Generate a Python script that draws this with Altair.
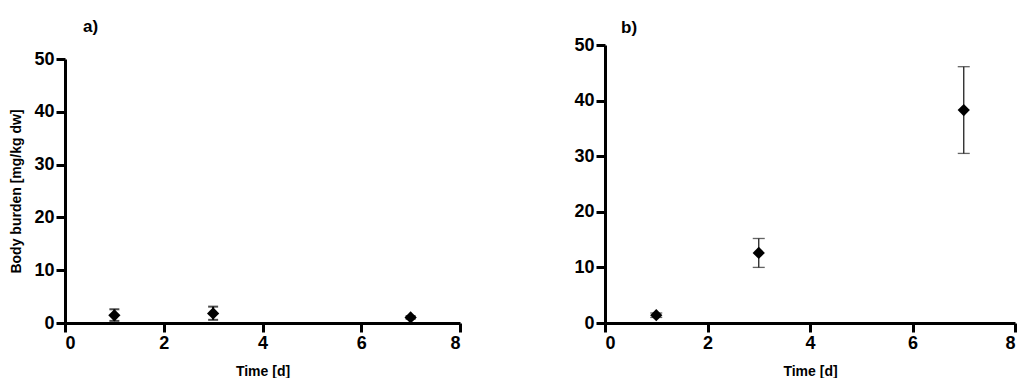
import altair as alt
import pandas as pd

# Panel a) data
a_time = [1, 3, 7]
a_mean = [1.45, 1.8, 1.05]
a_low = [0.4, 0.6, 0.8]
a_high = [2.6, 3.1, 1.3]

# Panel b) data
b_time = [1, 3, 7]
b_mean = [1.4, 12.6, 38.3]
b_low = [1.0, 10.0, 30.5]
b_high = [1.8, 15.2, 46.1]

x_ticks = [0, 2, 4, 6, 8]
y_ticks = [0, 10, 20, 30, 40, 50]

FONT = "Liberation Sans"


def panel(t, m, lo, hi, label, width, height, top_gap, y_title, title_offset, title_dx,
          err_w, err_color, cap_size):
    df = pd.DataFrame({"t": t, "m": m, "lo": lo, "hi": hi})
    xs = alt.Scale(domain=[0, 8], nice=False, zero=False)
    ys = alt.Scale(domain=[0, 50], nice=False, range=[height, top_gap])
    x_axis = alt.Axis(values=x_ticks, title="Time [d]", grid=False, format="d",
                      titlePadding=12)
    if y_title:
        y_axis = alt.Axis(values=y_ticks, grid=False, format="d", title=y_title, titlePadding=10)
    else:
        y_axis = alt.Axis(values=y_ticks, grid=False, format="d", title=None)
    base = alt.Chart(df)
    rule = base.mark_rule(strokeWidth=err_w, color=err_color).encode(
        x=alt.X("t:Q", scale=xs, axis=x_axis),
        y=alt.Y("lo:Q", scale=ys, axis=y_axis),
        y2="hi:Q",
    )
    cap_lo = base.mark_tick(orient="horizontal", size=cap_size, thickness=err_w, color=err_color).encode(
        x=alt.X("t:Q", scale=xs), y=alt.Y("lo:Q", scale=ys))
    cap_hi = base.mark_tick(orient="horizontal", size=cap_size, thickness=err_w, color=err_color).encode(
        x=alt.X("t:Q", scale=xs), y=alt.Y("hi:Q", scale=ys))
    pts = base.mark_point(shape="diamond", filled=True, size=150, color="black", opacity=1).encode(
        x=alt.X("t:Q", scale=xs), y=alt.Y("m:Q", scale=ys))
    return alt.layer(rule, cap_lo, cap_hi, pts).properties(
        width=width, height=height,
        title=alt.TitleParams(label, anchor="start", frame="group", dx=title_dx, fontSize=17,
                              fontWeight="bold", font=FONT, offset=title_offset, color="black"),
    )


pa = panel(a_time, a_mean, a_low, a_high, "a)", 395, 278, 14, "Body burden [mg/kg dw]", 9.5, 18,
           2, "black", 10)
pb = panel(b_time, b_mean, b_low, b_high, "b)", 410, 278, 0, None, -1, 16,
           1.3, "#222222", 12)

chart = alt.hconcat(pa, pb, spacing=111).properties(
    padding={"left": 1, "top": 9, "right": 0, "bottom": 0}
).configure_view(stroke=None).configure_axis(
    domainColor="black", domainWidth=3, tickColor="black", tickWidth=3, tickSize=9,
    labelPadding=2, labelFont=FONT, labelFontSize=18, labelFontWeight="bold", labelColor="black",
    titleFont=FONT, titleFontSize=14, titleFontWeight="bold", titleColor="black",
)

chart.save("out.html", embed_options={"renderer": "svg", "actions": False})
